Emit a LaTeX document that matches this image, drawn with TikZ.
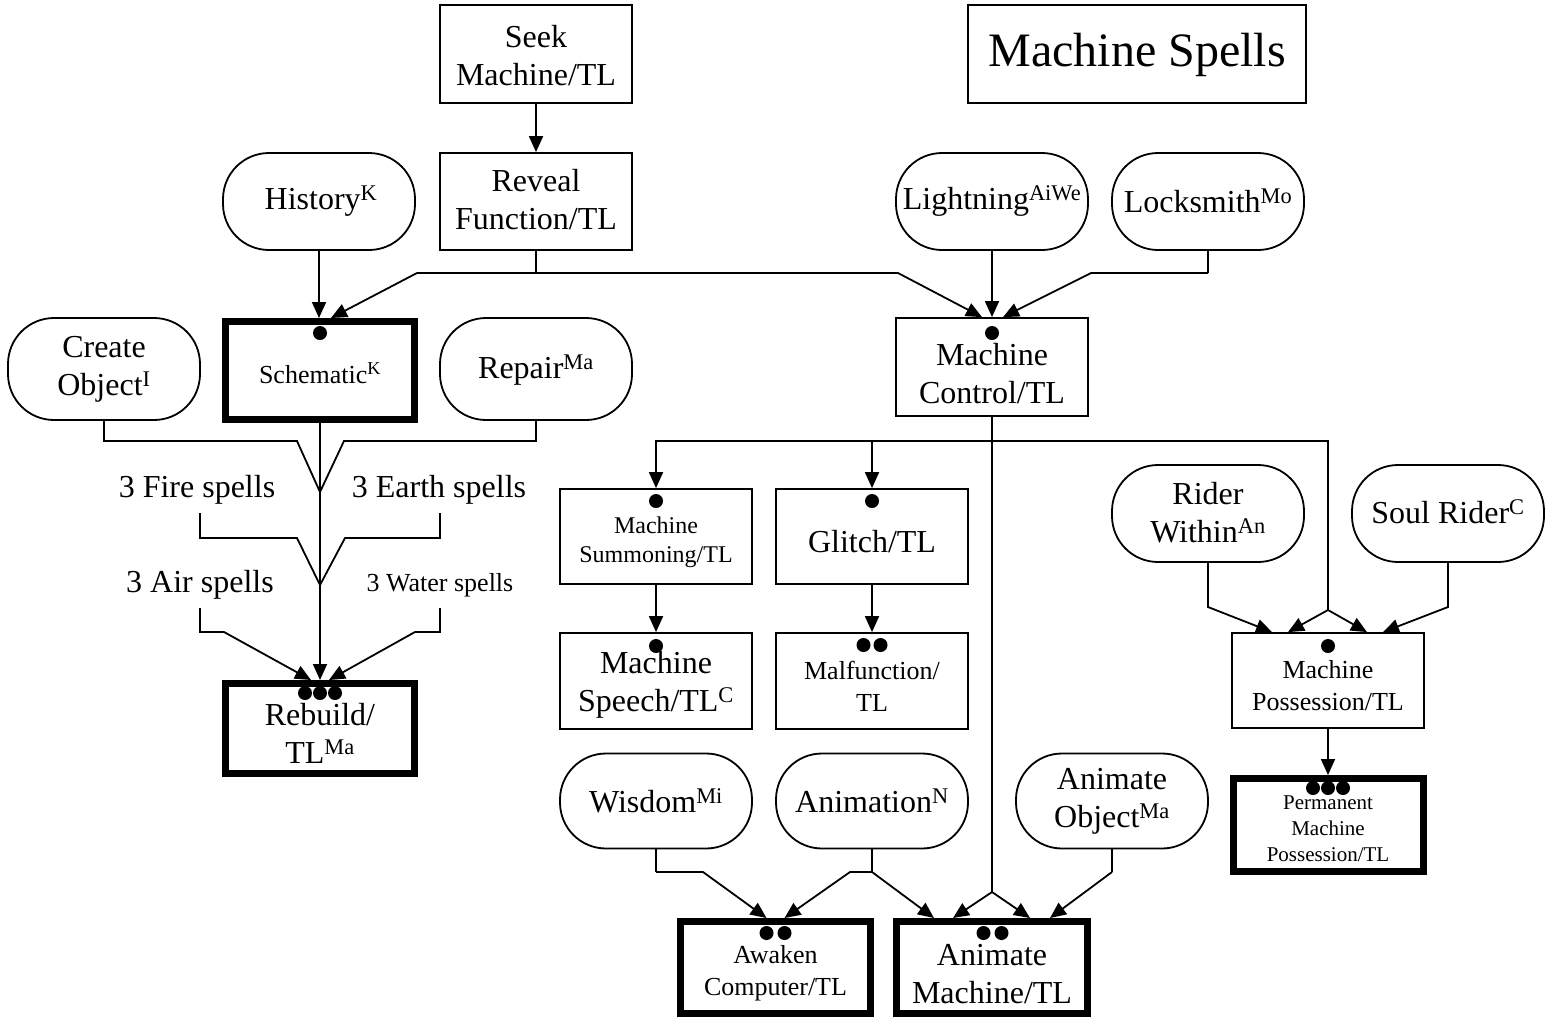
\documentclass[tikz,border=0pt]{standalone}
\usepackage{fontspec}
\setmainfont{Liberation Serif}
\usetikzlibrary{arrows.meta}
\newcommand\fN{\fontsize{32}{38}\selectfont}
\newcommand\fM{\fontsize{26}{32}\selectfont}
\newcommand\fS{\fontsize{24}{29}\selectfont}
\newcommand\fXS{\fontsize{21}{26}\selectfont}
\newcommand\fL{\fontsize{48}{56}\selectfont}
\tikzset{
  box/.style={draw, line width=1.8pt, inner sep=0pt},
  thickbox/.style={draw, line width=7pt, inner sep=0pt},
  pill/.style={draw, line width=1.8pt, rounded corners=46pt, inner sep=0pt},
  txt/.style={align=center, inner sep=0pt, font=\fN},
  conn/.style={line width=1.8pt},
  arw/.style={line width=1.8pt, -{Triangle[length=16pt,width=14pt]}},
  spot/.style={fill=black}
}
\begin{document}
\begin{tikzpicture}[x=1pt,y=-1pt]
\useasboundingbox (0,0) rectangle (1556,1021);
% ---- boxes
\node[box, minimum width=192, minimum height=98] (seek) at (536,54) {};
\node[box, minimum width=338, minimum height=98] (spells) at (1137,54) {};
\node[box, minimum width=192, minimum height=97] (reveal) at (536,201.5) {};
\node[pill, minimum width=192, minimum height=97] (history) at (319,201.5) {};
\node[pill, minimum width=192, minimum height=97] (light) at (992,201.5) {};
\node[pill, minimum width=192, minimum height=97] (lock) at (1208,201.5) {};
\node[pill, minimum width=192, minimum height=102] (create) at (104,369) {};
\node[thickbox, minimum width=189, minimum height=98] (schem) at (320,370.5) {};
\node[pill, minimum width=192, minimum height=102] (repair) at (536,369) {};
\node[box, minimum width=192, minimum height=98] (mc) at (992,367) {};
\node[box, minimum width=192, minimum height=95] (summ) at (656,536.5) {};
\node[box, minimum width=192, minimum height=95] (glitch) at (872,536.5) {};
\node[box, minimum width=192, minimum height=96] (speech) at (656,681) {};
\node[box, minimum width=192, minimum height=96] (malf) at (872,681) {};
\node[thickbox, minimum width=189, minimum height=90] (rebuild) at (320,728.5) {};
\node[pill, minimum width=192, minimum height=97] (rider) at (1208,513.5) {};
\node[pill, minimum width=192, minimum height=97] (soul) at (1448,513.5) {};
\node[box, minimum width=192, minimum height=95] (poss) at (1328,680.5) {};
\node[thickbox, minimum width=190, minimum height=93] (perm) at (1328,825) {};
\node[pill, minimum width=192, minimum height=95] (wisdom) at (656,801) {};
\node[pill, minimum width=192, minimum height=95] (anim) at (872,801) {};
\node[pill, minimum width=192, minimum height=95] (animobj) at (1112,801) {};
\node[thickbox, minimum width=190, minimum height=92] (awaken) at (775.5,967.5) {};
\node[thickbox, minimum width=191, minimum height=92] (animm) at (992,967.5) {};
% ---- texts
\node[txt] (tseek) at (536,56) {Seek\\Machine/TL};
\node[txt, font=\fL] (tspells) at (1137,55) {Machine Spells};
\node[txt] (treveal) at (536,200) {Reveal\\Function/TL};
\node[txt] (thistory) at (321,201) {History\textsuperscript{K}};
\node[txt] (tlight) at (992,201) {Lightning\textsuperscript{AiWe}};
\node[txt] (tlock) at (1208,201) {Locksmith\textsuperscript{Mo}};
\node[txt] (tcreate) at (104,369) {Create\\Object\textsuperscript{I}};
\node[txt, font=\fM] (tschem) at (320,373) {Schematic\textsuperscript{K}};
\node[txt] (trepair) at (536,370) {Repair\textsuperscript{Ma}};
\node[txt] (tmc) at (992,374) {Machine\\Control/TL};
\node[txt, font=\fS] (tsumm) at (656,542.5) {Machine\\Summoning/TL};
\node[txt] (tglitch) at (872,542) {Glitch/TL};
\node[txt] (tspeech) at (656,685) {Machine\\Speech/TL\textsuperscript{C}};
\node[txt, font=\fM] (tmalf) at (872,686) {Malfunction/\\TL};
\node[txt] (trebuild) at (320,733) {Rebuild/\\TL\textsuperscript{Ma}};
\node[txt] (trider) at (1208,512.5) {Rider\\Within\textsuperscript{An}};
\node[txt] (tsoul) at (1448,512) {Soul Rider\textsuperscript{C}};
\node[txt, font=\fM] (tposs) at (1328,686) {Machine\\Possession/TL};
\node[txt, font=\fXS] (tperm) at (1328,829) {Permanent\\Machine\\Possession/TL};
\node[txt] (twisdom) at (656,801) {Wisdom\textsuperscript{Mi}};
\node[txt] (tanim) at (872,801) {Animation\textsuperscript{N}};
\node[txt] (tanimobj) at (1112,801) {Animate\\Object\textsuperscript{Ma}};
\node[txt, font=\fM] (tawaken) at (775.5,973) {Awaken\\Computer/TL};
\node[txt] (tanimm) at (992,974) {Animate\\Machine/TL};
\node[txt] (fire) at (197,490) {3 Fire spells};
\node[txt] (earth) at (439,490) {3 Earth spells};
\node[txt] (air) at (200,585) {3 Air spells};
\node[txt, font=\fM] (water) at (440,585) {3 Water spells};
% ---- dots
\fill[spot] (320,333) circle (7);
\fill[spot] (992,333) circle (7);
\fill[spot] (656,501) circle (7);
\fill[spot] (872,501) circle (7);
\fill[spot] (656,646) circle (7);
\fill[spot] (863.5,645) circle (7) (880.5,645) circle (7);
\fill[spot] (305,693) circle (7) (320,693) circle (7) (335,693) circle (7);
\fill[spot] (1328,646) circle (7);
\fill[spot] (1313,788) circle (7) (1328,788) circle (7) (1343,788) circle (7);
\fill[spot] (766.5,933) circle (7) (784.5,933) circle (7);
\fill[spot] (983.5,933) circle (7) (1001.5,933) circle (7);
% ---- junction coordinates
\coordinate (rj) at (536,273);
\coordinate (lj) at (1208,273);
\coordinate (cj) at (320,492);
\coordinate (fj) at (320,585);
\coordinate (fireE) at (200,513);
\coordinate (earthE) at (440,513);
\coordinate (airE) at (200,608);
\coordinate (waterE) at (440,608);
\coordinate (hj) at (992,441);
\coordinate (pj) at (1328,610);
\coordinate (mj) at (992,892);
\coordinate (wj) at (656,872);
\coordinate (aj) at (872,872);
\coordinate (oj) at (1112,872);
% ---- connectors top
\draw[arw] (seek.south) -- (reveal.north);
\draw[arw] (history.south) -- ([xshift=-1]schem.north);
\draw[conn] (reveal.south) -- (rj);
\draw[arw] (rj) -- (417,273) -- ([xshift=11]schem.north);
\draw[arw] (rj) -- (898,273) -- ([xshift=-10]mc.north);
\draw[arw] (light.south) -- (mc.north);
\draw[conn] (lock.south) -- (lj);
\draw[arw] (lj) -- (1091,273) -- ([xshift=11]mc.north);
% ---- left tree
\draw[conn] (create.south) -- (104,441) -- (297,441) -- (cj);
\draw[conn] (repair.south) -- (536,441) -- (344,441) -- (cj);
\draw[arw] (schem.south) -- (rebuild.north);
\draw[conn] (fireE) -- (200,538) -- (297,538) -- (fj);
\draw[conn] (earthE) -- (440,538) -- (345,538) -- (fj);
\draw[arw] (airE) -- (200,632) -- (224,632) -- ([xshift=-9]rebuild.north);
\draw[arw] (waterE) -- (440,632) -- (415,632) -- ([xshift=9]rebuild.north);
% ---- middle
\draw[conn] (mc.south) -- (mj);
\draw[arw] (mj) -- ([xshift=-39]animm.north);
\draw[arw] (mj) -- ([xshift=38]animm.north);
\draw[arw] (hj) -| (summ.north);
\draw[arw] (hj -| glitch.north) -- (glitch.north);
\draw[conn] (hj) -| (pj);
\draw[arw] (pj) -- ([xshift=-40]poss.north);
\draw[arw] (pj) -- ([xshift=39]poss.north);
\draw[arw] (rider.south) -- (1208,607) -- ([xshift=-56]poss.north);
\draw[arw] (soul.south) -- (1448,607) -- ([xshift=55]poss.north);
\draw[arw] (summ.south) -- (speech.north);
\draw[arw] (glitch.south) -- (malf.north);
\draw[arw] (poss.south) -- (perm.north);
% ---- bottom
\draw[conn] (wisdom.south) -- (wj);
\draw[arw] (wj) -- (703,872) -- ([xshift=-9]awaken.north);
\draw[conn] (anim.south) -- (aj);
\draw[arw] (aj) -- (850,872) -- ([xshift=9]awaken.north);
\draw[arw] (aj) -- ([xshift=-58]animm.north);
\draw[conn] (animobj.south) -- (oj);
\draw[arw] (oj) -- ([xshift=58]animm.north);
\end{tikzpicture}
\end{document}
